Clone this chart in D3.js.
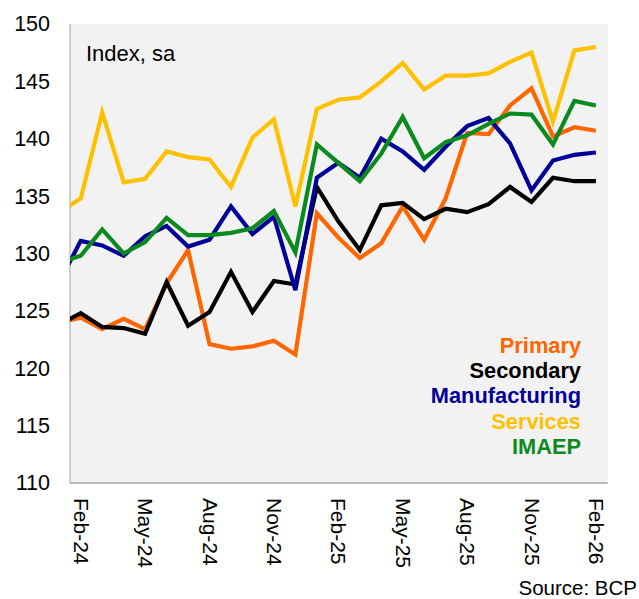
<!DOCTYPE html>
<html>
<head>
<meta charset="utf-8">
<script src="https://cdn.jsdelivr.net/npm/d3@7"></script>
<style>
  body { margin: 0; background: #fff; }
  text { font-family: "Liberation Sans", Arial, sans-serif; }
</style>
</head>
<body>
<div id="chart"></div>
<script>
// monthly, Jan-24 .. Feb-26 (Jan-24 sits just outside the plot and is clipped)
const months = ["Jan-24","Feb-24","Mar-24","Apr-24","May-24","Jun-24","Jul-24","Aug-24","Sep-24","Oct-24","Nov-24","Dec-24",
                "Jan-25","Feb-25","Mar-25","Apr-25","May-25","Jun-25","Jul-25","Aug-25","Sep-25","Oct-25","Nov-25","Dec-25",
                "Jan-26","Feb-26"];
const tickLabels = ["Feb-24","May-24","Aug-24","Nov-24","Feb-25","May-25","Aug-25","Nov-25","Feb-26"];
const yTicks = [110, 115, 120, 125, 130, 135, 140, 145, 150];

const primary       = [124.0,124.4,123.4,124.3,123.4,127.4,130.3,122.1,121.7,121.9,122.4,121.2,133.5,131.4,129.6,130.9,134.1,131.2,134.8,140.5,140.4,142.9,144.4,140.2,141.0,140.7];
const secondary     = [123.8,124.8,123.6,123.5,123.0,127.5,123.7,124.9,128.4,124.9,127.6,127.3,135.8,132.8,130.3,134.2,134.4,133.0,133.9,133.6,134.3,135.8,134.5,136.6,136.3,136.3];
const manufacturing = [127.5,131.1,130.7,129.8,131.5,132.4,130.6,131.2,134.1,131.7,133.2,126.8,136.6,137.9,136.6,140.0,138.9,137.3,139.3,141.1,141.8,139.6,135.5,138.1,138.6,138.8];
const services      = [133.6,134.8,142.3,136.2,136.5,138.9,138.4,138.2,135.8,140.1,141.7,134.1,142.6,143.4,143.6,145.0,146.6,144.3,145.5,145.5,145.7,146.7,147.5,141.5,147.7,148.0];
const imaep         = [129.2,129.8,132.1,130.0,131.0,133.1,131.6,131.6,131.8,132.2,133.7,130.1,139.5,137.9,136.3,138.7,141.9,138.3,139.7,140.3,141.3,142.2,142.1,139.5,143.3,142.9];

const seriesNames  = ["Primary","Secondary","Manufacturing","Services","IMAEP"];
const seriesColors = ["#ff6600","#000000","#000099","#ffc000","#0b8a1f"];
const seriesData   = [primary, secondary, manufacturing, services, imaep];
// draw order (back to front)
const drawOrder = [0, 1, 3, 2, 4];

const width = 639, height = 599;
const plotLeft = 70, plotRight = 607.7, plotTop = 24, plotBottom = 483;

const svg = d3.select("#chart").append("svg")
    .attr("width", width)
    .attr("height", height);

const x = d3.scaleLinear()
    .domain([0.5, 25.55])
    .range([plotLeft, plotRight]);

const y = d3.scaleLinear()
    .domain([110, 150])
    .range([plotBottom, plotTop]);

// plot background
svg.append("rect")
    .attr("x", plotLeft).attr("y", plotTop)
    .attr("width", plotRight - plotLeft).attr("height", plotBottom - plotTop)
    .attr("fill", "#f2f2f2");

svg.append("clipPath").attr("id", "plotClip")
  .append("rect")
    .attr("x", plotLeft).attr("y", plotTop - 10)
    .attr("width", plotRight - plotLeft).attr("height", plotBottom - plotTop + 20);

// y axis labels
const yAxis = d3.axisLeft(y).tickValues(yTicks).tickSize(0).tickPadding(20);
const gy = svg.append("g")
    .attr("transform", `translate(${plotLeft},0)`)
    .call(yAxis);
gy.select(".domain").remove();
gy.selectAll("text")
    .attr("font-size", "21.5px")
    .attr("fill", "#000")
    .style("font-family", '"Liberation Sans", Arial, sans-serif');

// x axis labels, rotated
const tickIdx = tickLabels.map(l => months.indexOf(l));
const xAxis = d3.axisBottom(x).tickValues(tickIdx).tickSize(0)
    .tickFormat(i => months[i]);
const gx = svg.append("g")
    .attr("transform", `translate(0,${plotBottom})`)
    .call(xAxis);
gx.select(".domain").remove();
gx.selectAll("text")
    .attr("font-size", "21px")
    .attr("fill", "#000")
    .style("font-family", '"Liberation Sans", Arial, sans-serif')
    .attr("text-anchor", "start")
    .attr("transform", "rotate(90)")
    .attr("x", 15)
    .attr("y", 0)
    .attr("dy", "0.35em");

// axis lines
svg.append("line")
    .attr("x1", plotLeft).attr("x2", plotLeft).attr("y1", plotTop).attr("y2", plotBottom)
    .attr("stroke", "#bfbfbf").attr("stroke-width", 1.5);
svg.append("line")
    .attr("x1", plotLeft).attr("x2", plotRight).attr("y1", plotBottom).attr("y2", plotBottom)
    .attr("stroke", "#a6a6a6").attr("stroke-width", 1.5);

// lines
const line = d3.line()
    .x((d, i) => x(i))
    .y(d => y(d));

const lines = svg.append("g").attr("clip-path", "url(#plotClip)");
drawOrder.forEach(k => {
  lines.append("path")
      .datum(seriesData[k])
      .attr("d", line)
      .attr("fill", "none")
      .attr("stroke", seriesColors[k])
      .attr("stroke-width", 4.2)
      .attr("stroke-linejoin", "miter");
});

// unit label
svg.append("text")
    .attr("x", 86).attr("y", 61)
    .attr("font-size", "22px")
    .text("Index, sa");

// legend
const legend = svg.append("g");
seriesNames.forEach((name, i) => {
  legend.append("text")
      .attr("x", 581)
      .attr("y", 345 + i * 25.4)
      .attr("dy", "0.35em")
      .attr("text-anchor", "end")
      .attr("font-size", "21.8px")
      .attr("font-weight", "bold")
      .attr("fill", seriesColors[i])
      .text(name);
});

// source
svg.append("text")
    .attr("x", 637).attr("y", 595)
    .attr("text-anchor", "end")
    .attr("font-size", "20.5px")
    .text("Source: BCP");
</script>
</body>
</html>
